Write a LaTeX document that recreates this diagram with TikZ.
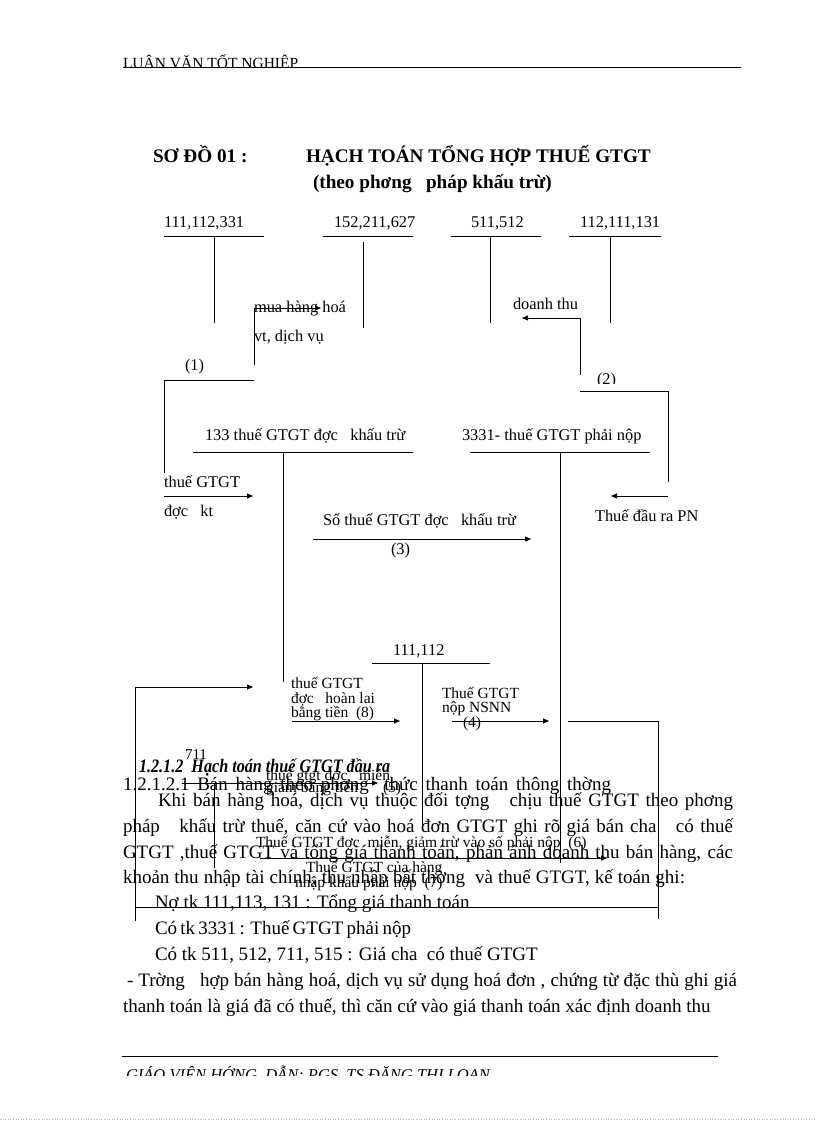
\documentclass[tikz,border=0pt]{standalone}
\usepackage{fontspec}
\setmainfont{Liberation Serif}
\newfontfamily\condserif[FakeStretch=0.85]{Liberation Serif}
\usetikzlibrary{arrows.meta}
\begin{document}
\begin{tikzpicture}[x=1pt,y=-1pt,
  txt/.style={anchor=base west,inner sep=0pt,outer sep=0pt},
  lbl/.style={txt,font=\fontsize{16.4}{17}\selectfont},
  sm/.style={txt,font=\fontsize{15.5}{15}\selectfont},
  bd/.style={txt,font=\fontsize{19}{20}\selectfont},
  ttl/.style={txt,font=\bfseries\fontsize{19.2}{20}\selectfont},
  ln/.style={line width=0.75pt},
  arr/.style={ln,-{Triangle[length=6pt,width=5pt]}},
]
\useasboundingbox (0,0) rectangle (816,1123);

% ---------- header ----------
\begin{scope}
  \clip (100,40) rectangle (760,66.6);
  \node[txt,font=\fontsize{15.5}{15}\selectfont] (hdr) at (123,68.5) {LUẬN VĂN TỐT NGHIỆP};
\end{scope}
\coordinate (hl) at (123,67); \coordinate (hr) at (741,67);
\draw[ln] (hl) -- (hr);

% ---------- title ----------
\node[ttl] (t1) at (153,163) {SƠ ĐỒ 01 :};
\node[ttl] (t2) at (306,163) {HẠCH TOÁN TỔNG HỢP THUẾ GTGT};
\node[ttl] (t3) at (313,189) {(theo phơng\ \ \ pháp khấu trừ)};

% ---------- body text ----------
\node[bd] (b1) at (123,790) {\makebox[488pt][s]{1.2.1.2.1 Bán hàng theo phơng\ \ thức thanh toán thông thờng}};
\node[bd] (b2) at (158,806) {\makebox[575pt][s]{Khi bán hàng hoá, dịch vụ thuộc đối tợng\ \ \ chịu thuế GTGT theo phơng}};
\node[bd] (b3) at (123,832) {\makebox[610pt][s]{pháp\ \ \ khấu trừ thuế, căn cứ vào hoá đơn GTGT ghi rõ giá bán cha\ \ \ có thuế}};
\node[bd] (b4) at (123,858) {\makebox[610pt][s]{GTGT ,thuế GTGT và tổng giá thanh toán, phản ánh doanh thu bán hàng, các}};
\node[bd] (b5) at (123,883) {\makebox[562pt][s]{khoản thu nhập tài chính, thu nhập bất thờng\ \ và thuế GTGT, kế toán ghi:}};
\node[bd] (b6) at (155,908) {Nợ tk 111,113, 131 : Tổng giá thanh toán};
\node[bd] (b7) at (155,934) {\makebox[256pt][s]{Có tk 3331 : Thuế GTGT phải nộp}};
\node[bd] (b8) at (155,960) {Có tk 511, 512, 711, 515 : Giá cha\ \ có thuế GTGT};
\node[bd] (b9) at (127,986) {\makebox[610pt][s]{- Trờng\ \ \ hợp bán hàng hoá, dịch vụ sử dụng hoá đơn , chứng từ đặc thù ghi giá}};
\node[bd] (b10) at (123,1012) {thanh toán là giá đã có thuế, thì căn cứ vào giá thanh toán xác định doanh thu};
\node[txt,font=\fontsize{15}{15}\selectfont] (n711) at (185,759) {711};
\node[txt,font=\condserif\bfseries\itshape\fontsize{19}{19}\selectfont] (h1212) at (139,772) {1.2.1.2\ \ Hạch toán thuế GTGT đầu ra};

% ---------- account headings ----------
\node[lbl] (k111) at (164,228) {111,112,331};
\node[lbl] (k152) at (334,228) {152,211,627};
\node[lbl] (k511) at (471,228) {511,512};
\node[lbl] (k112) at (580,228) {112,111,131};
\coordinate (u111l) at (164,236); \coordinate (u111r) at (264,236);
\coordinate (u152l) at (323,236); \coordinate (u152r) at (413,236);
\coordinate (u511l) at (451,236); \coordinate (u511r) at (541,236);
\coordinate (u112l) at (569,236); \coordinate (u112r) at (661,236);
\draw[ln] (u111l) -- (u111r);
\draw[ln] (u152l) -- (u152r);
\draw[ln] (u511l) -- (u511r);
\draw[ln] (u112l) -- (u112r);
\draw[ln] (214,236) coordinate (v111t) -- (214,323) coordinate (v111b);
\draw[ln] (363,242) coordinate (v152t) -- (363,328) coordinate (v152b);
\draw[ln] (490,236) coordinate (v511t) -- (490,323) coordinate (v511b);
\draw[ln] (610,236) coordinate (v112t) -- (610,323) coordinate (v112b);

% ---------- (1) ----------
\coordinate (p1a) at (254,365); \coordinate (p1b) at (254,308); \coordinate (p1c) at (321,308);
\draw[arr] (p1a) -- (p1b) -- (p1c);
\node[lbl] (mua) at (254,312) {mua hàng hoá};
\node[lbl] (vt) at (254,341) {vt, dịch vụ};
\node[lbl] (n1) at (185,370) {(1)};
\coordinate (q1a) at (254,380); \coordinate (q1b) at (164,380); \coordinate (q1c) at (164,473);
\draw[ln] (q1a) -- (q1b) -- (q1c);
\coordinate (r1a) at (164,496); \coordinate (r1b) at (253,496);
\draw[arr] (r1a) -- (r1b);
\node[lbl] (tg1) at (164,487) {thuế GTGT};
\node[lbl] (dkt) at (164,516) {đợc\ \ \ kt};

% ---------- (2) ----------
\node[lbl] (dt) at (513,309) {doanh thu};
\coordinate (p2a) at (580,375); \coordinate (p2b) at (580,318); \coordinate (p2c) at (522,318);
\draw[arr] (p2a) -- (p2b) -- (p2c);
\begin{scope}
  \clip (590,360) rectangle (630,383.5);
  \node[lbl] (n2) at (597,384.5) {(2)};
\end{scope}
\coordinate (q2a) at (580,391); \coordinate (q2b) at (668,391); \coordinate (q2c) at (668,482);
\draw[ln] (q2a) -- (q2b) -- (q2c);
\coordinate (r2a) at (668,496); \coordinate (r2b) at (611,496);
\draw[arr] (r2a) -- (r2b);
\node[lbl] (tdr) at (595,521) {Thuế đầu ra PN};

% ---------- 133 and 3331 ----------
\node[lbl] (k133) at (205,440) {133 thuế GTGT đợc\ \ \ khấu trừ};
\coordinate (u133l) at (193,452); \coordinate (u133r) at (413,452);
\draw[ln] (u133l) -- (u133r);
\draw[ln] (283,452) coordinate (v133t) -- (283,682) coordinate (v133b);
\node[lbl] (k3331) at (462,440) {3331- thuế GTGT phải nộp};
\coordinate (u3331l) at (470,452); \coordinate (u3331r) at (650,452);
\draw[ln] (u3331l) -- (u3331r);
\draw[ln] (560,452) coordinate (v3331t) -- (560,863) coordinate (v3331b);

% ---------- (3) ----------
\node[lbl] (s3) at (323,525) {Số thuế GTGT đợc\ \ \ khấu trừ};
\coordinate (p3a) at (313,539); \coordinate (p3b) at (531,539);
\draw[arr] (p3a) -- (p3b);
\node[lbl] (n3) at (391,554) {(3)};

% ---------- 111,112 ----------
\node[lbl] (k1112) at (393,655) {111,112};
\coordinate (u1112l) at (372,663); \coordinate (u1112r) at (490,663);
\draw[ln] (u1112l) -- (u1112r);
\draw[ln] (422,663) coordinate (v1112t) -- (422,825) coordinate (v1112b);

% ---------- (8) ----------
\node[sm] (g8a) at (291,688) {thuế GTGT};
\node[sm] (g8b) at (291,703) {đợc\ \ \ hoàn lai};
\node[sm] (g8c) at (291,717) {bằng tiền\ \ (8)};
\coordinate (p8a) at (292,721); \coordinate (p8b) at (400,721);
\draw[arr] (p8a) -- (p8b);

% ---------- (4) ----------
\node[sm] (g4a) at (442,698) {Thuế GTGT};
\node[sm] (g4b) at (442,712) {nộp NSNN};
\node[sm] (g4c) at (463,727) {(4)};
\coordinate (p4a) at (452,721); \coordinate (p4b) at (549,721);
\draw[arr] (p4a) -- (p4b);

% ---------- (7) loop ----------
\coordinate (l7a) at (568,721); \coordinate (l7b) at (658,721);
\coordinate (l7c) at (658,907); \coordinate (l7d) at (135,907);
\coordinate (l7e) at (135,687); \coordinate (l7f) at (253,687);
\draw[arr] (l7a) -- (l7b) -- (l7c) -- (l7d) -- (l7e) -- (l7f);
\coordinate (l7cx) at (658,919); \coordinate (l7dx) at (135,921);
\draw[ln] (l7c) -- (l7cx);
\draw[ln] (l7d) -- (l7dx);
\node[sm] (g7a) at (306,872) {Thuế GTGT của hàng};
\node[sm] (g7b) at (295,887) {nhập khẩu phải nộp\ \ (7)};

% ---------- (5) ----------
\node[sm] (g5a) at (266,780) {thuế gtgt đợc\ \ \ miễn};
\node[sm] (g5b) at (266,792) {giảm bằng tiền};
\node[sm] (g5c) at (383,792) {(5)};
\coordinate (p5a) at (182,783); \coordinate (p5b) at (378,783);
\draw[arr] (p5a) -- (p5b);
\coordinate (v711t) at (214,783); \coordinate (v711b) at (214,868);
\draw[ln] (v711t) -- (v711b);

% ---------- (6) ----------
\node[sm] (g6) at (256,847) {Thuế GTGT đợc\ \ miễn, giảm trừ vào số phải nộp\ \ (6)};
\coordinate (p6a) at (260,858); \coordinate (p6b) at (607,858);
\draw[arr] (p6a) -- (p6b);

% ---------- footer ----------
\coordinate (fl) at (122,1056); \coordinate (fr) at (718,1056);
\draw[ln] (fl) -- (fr);
\begin{scope}
  \clip (100,1058) rectangle (760,1075.5);
  \node[txt,font=\itshape\fontsize{16.5}{16}\selectfont] (ftr) at (126,1080) {GIÁO VIÊN HỚNG\ \ DẪN: PGS. TS ĐẶNG THỊ LOAN};
\end{scope}
\coordinate (dl) at (0,1119); \coordinate (dr) at (816,1119);
\draw[gray!60,dotted,line width=0.6pt] (dl) -- (dr);
\end{tikzpicture}
\end{document}
